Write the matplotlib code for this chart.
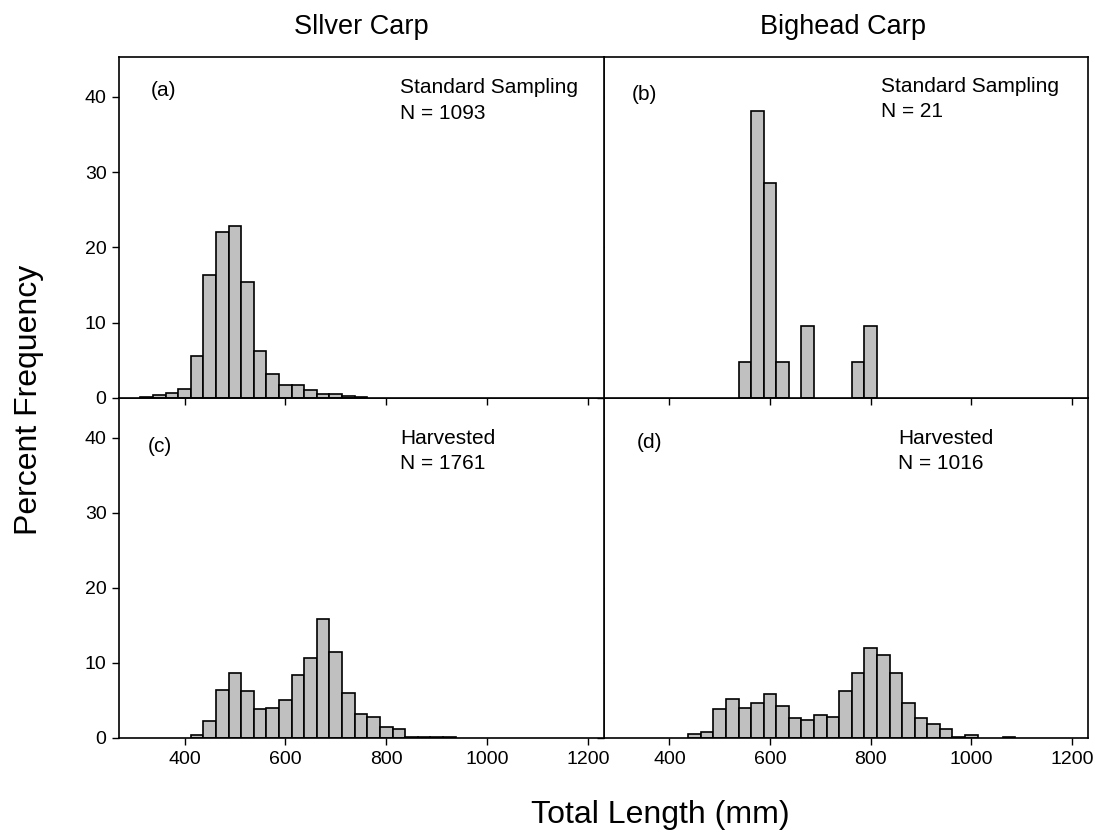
import matplotlib
matplotlib.use("Agg")
import matplotlib.pyplot as plt

plt.rcParams['font.family'] = ['Liberation Sans', 'DejaVu Sans']

BIN_WIDTH = 25

# Panel (a) Silver Carp, standard sampling
centers_a = [325, 350, 375, 400, 425, 450, 475, 500, 525, 550, 575, 600, 625, 650, 675, 700, 725, 750]
pct_a = [0.13, 0.4, 0.6, 1.15, 5.6, 16.4, 22.0, 22.8, 15.4, 6.2, 3.2, 1.75, 1.75, 1.1, 0.53, 0.53, 0.22, 0.18]

# Panel (b) Bighead Carp, standard sampling
centers_b = [550, 575, 600, 625, 675, 775, 800]
pct_b = [4.76, 38.1, 28.57, 4.76, 9.52, 4.76, 9.52]

# Panel (c) Silver Carp, harvested
centers_c = [425, 450, 475, 500, 525, 550, 575, 600, 625, 650, 675, 700, 725, 750, 775, 800, 825, 850, 875, 900, 925]
pct_c = [0.35, 2.2, 6.4, 8.6, 6.2, 3.8, 4.0, 5.0, 8.4, 10.6, 15.8, 11.5, 6.0, 3.2, 2.8, 1.4, 1.2, 0.15, 0.15, 0.15, 0.15]

# Panel (d) Bighead Carp, harvested
centers_d = [450, 475, 500, 525, 550, 575, 600, 625, 650, 675, 700, 725, 750, 775, 800, 825, 850, 875, 900, 925, 950, 975, 1000, 1075]
pct_d = [0.53, 0.75, 3.8, 5.2, 4.0, 4.6, 5.8, 4.3, 2.7, 2.4, 3.1, 2.8, 6.2, 8.6, 12.0, 11.0, 8.6, 4.6, 2.6, 1.8, 1.2, 0.15, 0.4, 0.15]

col_titles = ["Sllver Carp", "Bighead Carp"]
panel_labels = ["(a)", "(b)", "(c)", "(d)"]
sample_labels = ["Standard Sampling", "Standard Sampling", "Harvested", "Harvested"]
n_labels = ["N = 1093", "N = 21", "N = 1761", "N = 1016"]
x_ticks = [400, 600, 800, 1000, 1200]
y_ticks = [0, 10, 20, 30, 40]

W, H = 1095, 832
fig = plt.figure(figsize=(W / 100, H / 100), dpi=100)

def px_rect(left, top, right, bottom):
    return [left / W, 1 - bottom / H, (right - left) / W, (bottom - top) / H]

rects = [px_rect(119, 57, 604, 398), px_rect(604, 57, 1088, 398),
         px_rect(119, 398, 604, 738), px_rect(604, 398, 1088, 738)]
data = [(centers_a, pct_a), (centers_b, pct_b), (centers_c, pct_c), (centers_d, pct_d)]

# text positions in axes fraction (panel label, sample text)
lab_pos = [(0.065, 0.903), (0.058, 0.889), (0.060, 0.856), (0.068, 0.868)]
txt_pos = [(0.58, 0.872), (0.572, 0.877), (0.58, 0.844), (0.608, 0.844)]

axes = []
for i, (rect, (c, p)) in enumerate(zip(rects, data)):
    ax = fig.add_axes(rect)
    ax.bar(c, p, width=BIN_WIDTH, color='#c0c0c0', edgecolor='black', linewidth=1.2, align='center')
    ax.set_xlim(270, 1232)
    ax.set_ylim(0, 45.3)
    ax.set_xticks(x_ticks)
    ax.set_yticks(y_ticks)
    for s in ax.spines.values():
        s.set_linewidth(1.2)
    ax.tick_params(direction='out', length=5, width=1.0, labelsize=14, pad=4,
                   top=False, right=False)
    if i < 2:
        ax.tick_params(labelbottom=False)
    if i % 2 == 1:
        ax.tick_params(labelleft=False)
    ax.text(*lab_pos[i], panel_labels[i], transform=ax.transAxes, fontsize=15,
            ha='left', va='center')
    ax.text(txt_pos[i][0], txt_pos[i][1], sample_labels[i] + "\n" + n_labels[i],
            transform=ax.transAxes, fontsize=15, ha='left', va='center', linespacing=1.45)
    ax.set_zorder(10 - i)
    axes.append(ax)

fig.text(361 / W, 1 - 27 / H, col_titles[0], ha='center', va='center', fontsize=19.5)
fig.text(843 / W, 1 - 27 / H, col_titles[1], ha='center', va='center', fontsize=19.5)
fig.text(29 / W, 1 - 400 / H, "Percent Frequency", rotation=90, ha='center', va='center', fontsize=23)
fig.text(660 / W, 1 - 815 / H, "Total Length (mm)", ha='center', va='center', fontsize=23)

fig.savefig("out.png", dpi=100)
